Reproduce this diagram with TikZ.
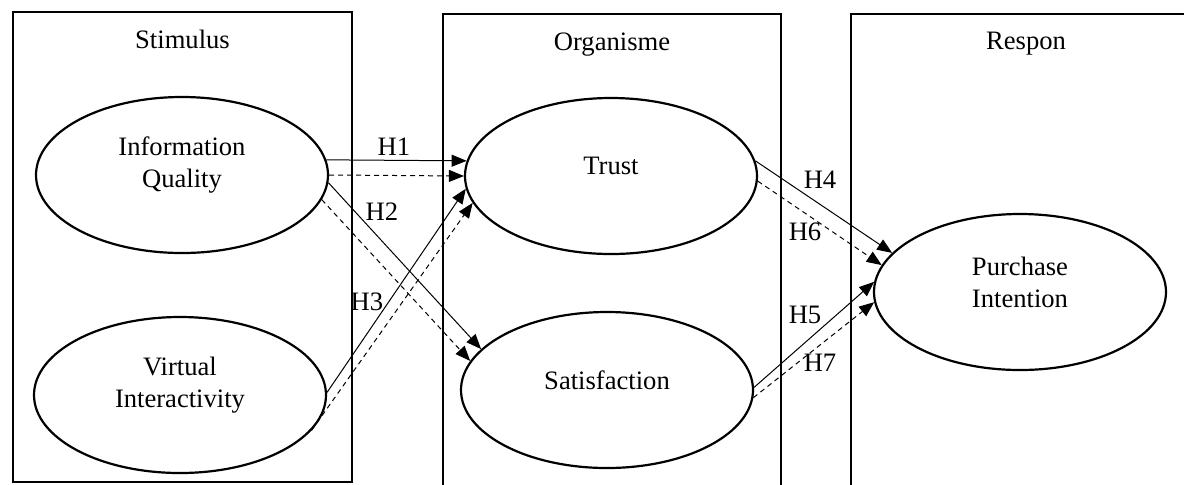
\documentclass[tikz,border=0pt]{standalone}
\usepackage{fontspec}
\setmainfont{Liberation Serif}
\usepackage{tikz}
\usetikzlibrary{shapes.geometric,arrows.meta,positioning}

\begin{document}
\begin{tikzpicture}[
  x=0.5pt, y=-0.5pt,
  panel/.style={draw, line width=1pt, anchor=north west, minimum width=#1, minimum height=240pt, inner sep=0pt},
  title/.style={font=\fontsize{13.3}{16}\selectfont, inner sep=0pt},
  lbl/.style={font=\fontsize{13.3}{16}\selectfont, align=center, inner sep=0pt, yshift=5pt},
  var/.style={draw, ellipse, line width=1.1pt, minimum width=146pt, minimum height=78pt,
              inner sep=0pt, label={[lbl]center:{#1}}},
  hyp/.style={-{Triangle[length=7.5pt,width=6pt]}, line width=0.5pt},
  hypd/.style={hyp, dash pattern=on 2.5pt off 2pt},
  hlbl/.style={font=\fontsize{13.3}{16}\selectfont, inner sep=0pt}
]
  \useasboundingbox (0,0) rectangle (1184,484);
  \clip (0,0) rectangle (1184,484);

  % Three panels
  \node[panel=169.5pt, minimum height=235pt] (stim) at (12,11) {};
  \node[panel=169pt] (org) at (442,13) {};
  \node[panel=175pt] (resp) at (850,13) {};
  \node[title, below=9.5pt of stim.north] (stimt) {Stimulus};
  \node[title, below=9.5pt of org.north] (orgt) {Organisme};
  \node[title, below=9.5pt of resp.north] (respt) {Respon};

  % Variables
  \node[var={Information\\Quality}] (iq) at (182,175) {};
  \node[var={Virtual\\Interactivity}] (vi) at (180,395) {};
  \node[var={Trust}] (trust) at (611,176) {};
  \node[var={Satisfaction}] (sat) at (607,390) {};
  \node[var={Purchase\\Intention}] (pint) at (1020,292) {};

  % Hypotheses, solid = direct, dashed = mediated
  \draw[hyp] (iq.6) -- (trust.174);
  \draw[hypd] (iq.0) -- (trust.180);
  \draw[hyp] (iq.-3) -- (sat.162);
  \draw[hypd] (iq.-10) -- (sat.168);
  \draw[hyp] (vi.1) -- (trust.185);
  \draw[hypd] (vi.-15) -- (trust.191);
  \draw[hyp] (trust.6) -- (pint.163);
  \draw[hypd] (trust.-2) -- (pint.169);
  \draw[hyp] (sat.1) -- (pint.176);
  \draw[hypd] (sat.-3) -- (pint.184);

  % Labels
  \node[hlbl] (h1) at (394,147) {H1};
  \node[hlbl] (h2) at (382,212) {H2};
  \node[hlbl] (h3) at (367,302) {H3};
  \node[hlbl] (h4) at (820,180) {H4};
  \node[hlbl] (h6) at (805,232) {H6};
  \node[hlbl] (h5) at (805,315) {H5};
  \node[hlbl] (h7) at (820,363) {H7};
\end{tikzpicture}
\end{document}
